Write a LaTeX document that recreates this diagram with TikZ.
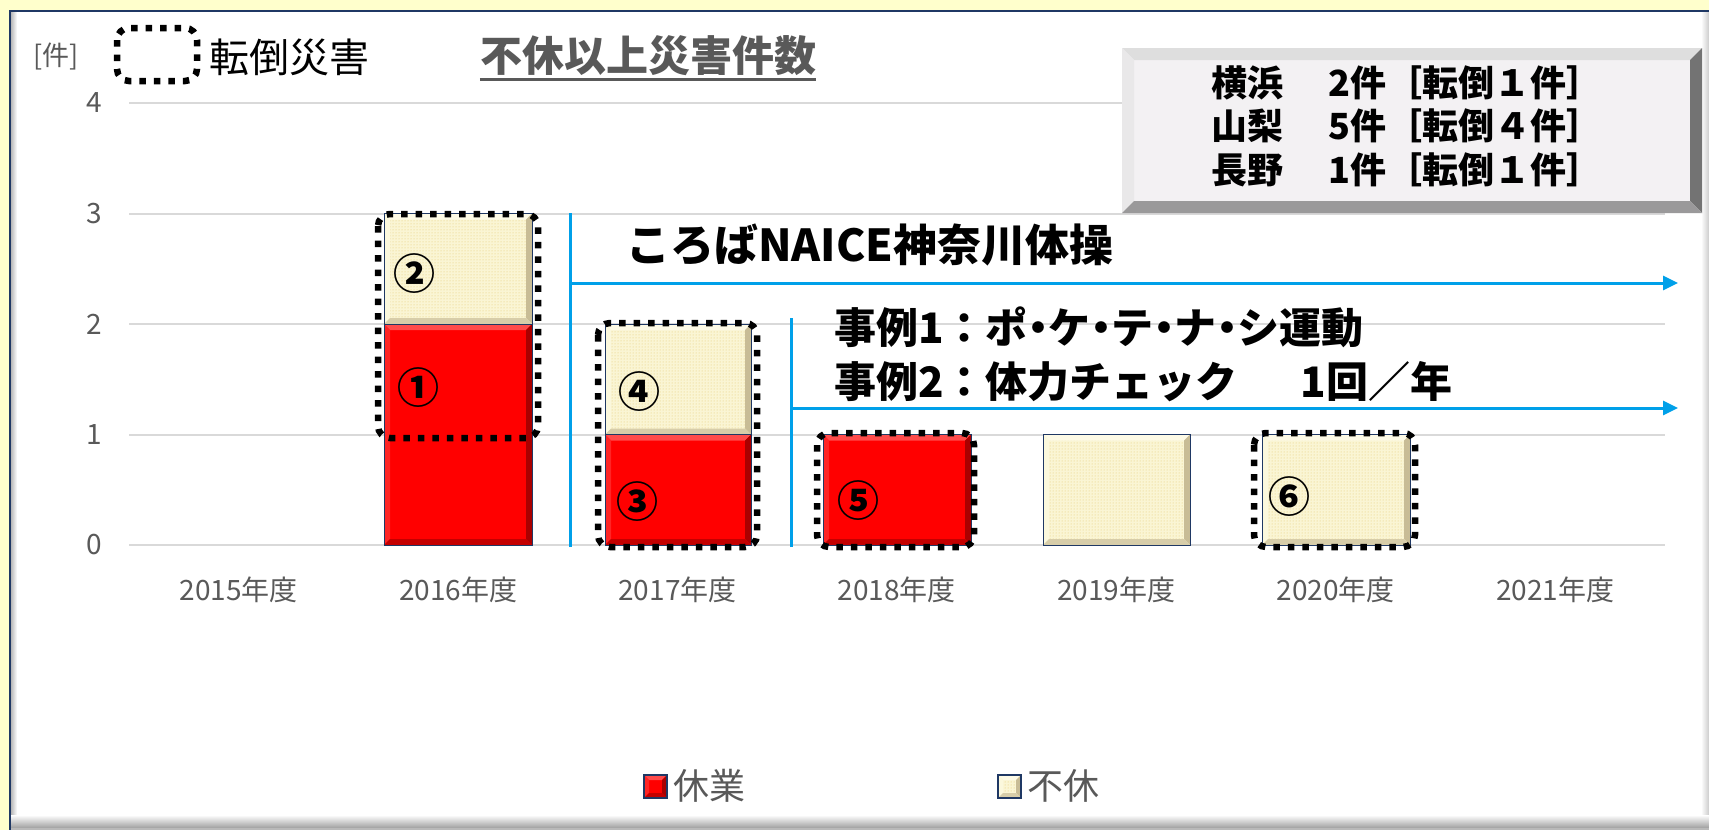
\documentclass[tikz,border=0pt]{standalone}
\usepackage{fontspec}
\setmainfont{Noto Sans CJK JP}
\newfontfamily\jpprop{Noto Sans CJK JP}[RawFeature=+palt]
\usetikzlibrary{arrows.meta, patterns}

\definecolor{bgyellow}{RGB}{255,255,204}
\definecolor{frameblue}{RGB}{31,56,100}
\definecolor{gridgray}{RGB}{217,217,217}
\definecolor{axisgray}{RGB}{89,89,89}
\definecolor{kyugyo}{RGB}{255,0,0}
\definecolor{kyugyolight}{RGB}{255,75,75}
\definecolor{kyugyodark}{RGB}{170,0,0}
\definecolor{fukyu}{RGB}{250,245,212}
\definecolor{fukyudot}{RGB}{228,200,110}
\definecolor{fukyulight}{RGB}{253,250,230}
\definecolor{fukyudark}{RGB}{200,188,150}
\definecolor{box}{RGB}{243,241,243}
\definecolor{boxlight}{RGB}{222,222,222}
\definecolor{boxdark}{RGB}{115,115,115}
\definecolor{naiceblue}{RGB}{0,160,233}

% bevelled block: corners (#1,#2) (#3,#4), bevel #5, colour name #6
\newcommand{\bevelrect}[6]{%
  \fill[#6] (#1,#2) rectangle (#3,#4);
  \path[#6 texture] (#1,#2) rectangle (#3,#4);
  \fill[#6light] (#1,#2) -- (#3,#2) -- ({#3-#5},{#2+#5}) -- ({#1+#5},{#2+#5}) -- cycle;
  \fill[#6light!50!#6] (#1,#2) -- ({#1+#5},{#2+#5}) -- ({#1+#5},{#4-#5}) -- (#1,#4) -- cycle;
  \fill[#6dark] (#3,#2) -- ({#3-#5},{#2+#5}) -- ({#3-#5},{#4-#5}) -- (#3,#4) -- cycle;
  \fill[#6dark!70!#6] (#1,#4) -- (#3,#4) -- ({#3-#5},{#4-#5}) -- ({#1+#5},{#4-#5}) -- cycle;
}
\newcommand{\nakaguro}{{\jpprop ・}}

\tikzset{
  kyugyo texture/.style={},
  fukyu texture/.style={pattern=dots, pattern color=fukyudot},
  box texture/.style={},
}

\begin{document}
\begin{tikzpicture}[x=1pt, y=-1pt,
    gridline/.style={draw=gridgray, line width=2pt},
    axislabel/.style={font=\fontsize{28}{28}\selectfont, text=axisgray, inner sep=0pt},
    barline/.style={draw=frameblue, line width=1pt},
    fallmark/.style={draw=black, line width=6.5pt, dash pattern=on 6.5pt off 8pt, rounded corners=12pt},
    circnum/.style={font=\fontsize{42}{42}\selectfont\bfseries, inner sep=0pt},
    note/.style={font=\fontsize{42}{54}\selectfont\bfseries, inner sep=0pt, align=left, anchor=west},
    blueline/.style={draw=naiceblue, line width=3pt},
    bluearrow/.style={blueline, -{Triangle[length=15pt,width=14pt]}},
  ]
  \useasboundingbox (0,0) rectangle (1709,830);
  % panel
  \fill[bgyellow] (0,0) rectangle (1709,830);
  \fill[white] (9,10) rectangle (1709,830);
  \shade[left color=gray!55, right color=white] (11,11) rectangle (17,828);
  \shade[left color=white, right color=gray!40] (1701,11) rectangle (1709,828);
  \shade[top color=white, bottom color=gray!75] (9,815) rectangle (1709,828);
  \fill[gray!55] (9,828) rectangle (1709,830);
  \draw[frameblue, line width=2.5pt] (10,830) -- (10,11) -- (1709,11);

  % grid and axes
  \foreach \v in {0,...,4} {
    \draw[gridline] (129,{545-110.5*\v}) -- (1665,{545-110.5*\v});
    \node[axislabel, anchor=east] (tick\v) at (102,{545-110.5*\v}) {\v};
  }
  \foreach \yr [count=\i from 0] in {2015,...,2021}
    \node[axislabel] (cat\yr) at ({238.7+219.4*\i},590) {\yr 年度};
  \node[axislabel, font=\fontsize{27}{27}\selectfont] (unit) at (56,57) {[件]};

  % bars
  \bevelrect{384}{324}{532}{545}{6}{kyugyo}
  \bevelrect{384}{213.5}{532}{324}{6}{fukyu}
  \bevelrect{605}{434.5}{751}{545}{6}{kyugyo}
  \bevelrect{605}{324}{751}{434.5}{6}{fukyu}
  \bevelrect{823}{434.5}{971}{545}{6}{kyugyo}
  \bevelrect{1043}{434.5}{1190}{545}{6}{fukyu}
  \bevelrect{1262}{434.5}{1410}{545}{6}{fukyu}
  \draw[barline] (384,213.5) rectangle (532,545) (384,324) -- (532,324);
  \draw[barline] (605,324) rectangle (751,545) (605,434.5) -- (751,434.5);
  \draw[barline] (823,434.5) rectangle (971,545);
  \draw[barline] (1043,434.5) rectangle (1190,545);
  \draw[barline] (1262,434.5) rectangle (1410,545);

  % circled numbers
  \node[circnum] (n1) at (418,388) {①};
  \node[circnum] (n2) at (414,274) {②};
  \node[circnum] (n3) at (637,502) {③};
  \node[circnum] (n4) at (639,392) {④};
  \node[circnum] (n5) at (858,501) {⑤};
  \node[circnum] (n6) at (1289,497) {⑥};

  % falls
  \draw[fallmark] (378,214) rectangle (538,438);
  \draw[fallmark] (598,323) rectangle (757,547);
  \draw[fallmark] (817,433) rectangle (974,547);
  \draw[fallmark] (1254,433) rectangle (1415,547);

  % measures
  \coordinate (naicebot) at (570,547);
  \coordinate (naicetop) at (570,213);
  \coordinate (naicestart) at (570,283);
  \coordinate (naiceend) at (1678,283);
  \coordinate (casebot) at (791,547);
  \coordinate (casetop) at (791,318);
  \coordinate (casestart) at (791,408);
  \coordinate (caseend) at (1678,408);
  \draw[blueline] (naicebot) -- (naicetop);
  \draw[bluearrow] (naicestart) -- (naiceend);
  \draw[blueline] (casebot) -- (casetop);
  \draw[bluearrow] (casestart) -- (caseend);
  \node[note, font=\fontsize{44}{44}\selectfont\bfseries] (naice) at (626,245) {ころばNAICE神奈川体操};
  \node[note] (cases) at (834,354) {事例1：ポ\nakaguro ケ\nakaguro テ\nakaguro ナ\nakaguro シ運動\\事例2：体力チェック　\hspace{0.5em}1回／年};

  % header
  \draw[fallmark] (117,28) rectangle (197,81);
  \node[inner sep=0pt, anchor=west, font=\fontsize{40}{40}\selectfont] (falllegend) at (209,57) {転倒災害};
  \node[inner sep=0pt, anchor=base, text=axisgray, font=\fontsize{42}{42}\selectfont\bfseries] (title) at (648,71) {不休以上災害件数};
  \draw[axisgray, line width=3pt] ([yshift=-4pt]title.south west) -- ([yshift=-4pt]title.south east);

  % totals
  \bevelrect{1122}{48}{1702}{213}{12}{box}
  \node[inner sep=0pt, anchor=west, align=left, font=\fontsize{36}{43.5}\selectfont\bfseries] (totals) at (1211,126)
    {横浜\hspace{1.25em}2件［転倒１件］\\山梨\hspace{1.25em}5件［転倒４件］\\長野\hspace{1.25em}1件［転倒１件］};

  % legend
  \bevelrect{644}{775}{667}{798}{5}{kyugyo}
  \draw[frameblue, line width=2pt] (644,775) rectangle (667,798);
  \node[axislabel, anchor=west, font=\fontsize{36}{36}\selectfont] (lkyugyo) at (673,786) {休業};
  \bevelrect{998}{775}{1021}{798}{5}{fukyu}
  \draw[frameblue, line width=2pt] (998,775) rectangle (1021,798);
  \node[axislabel, anchor=west, font=\fontsize{36}{36}\selectfont] (lfukyu) at (1027,786) {不休};
\end{tikzpicture}
\end{document}
